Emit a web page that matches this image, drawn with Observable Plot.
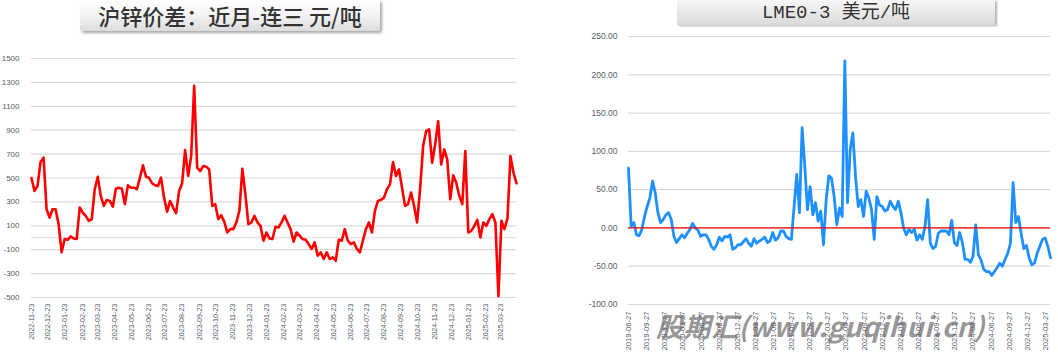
<!DOCTYPE html>
<html><head><meta charset="utf-8">
<script src="https://cdn.jsdelivr.net/npm/d3@7"></script>
<script src="https://cdn.jsdelivr.net/npm/@observablehq/plot@0.6"></script>
<style>
html,body{margin:0;padding:0;background:#fff;}
#wrap{position:relative;width:1058px;height:355px;overflow:hidden;font-family:"Liberation Sans",Arial,sans-serif;}
.panel{position:absolute;top:0;}
.title{position:absolute;top:0;text-align:center;color:#333;white-space:nowrap;}
#t1{left:80px;width:300px;height:31px;line-height:30px;font-size:22px;font-weight:500;font-family:"Noto Sans CJK SC",sans-serif;
 background:linear-gradient(#ffffff,#f3f3f3 50%,#dcdcdc);box-shadow:2px 2px 3px rgba(0,0,0,0.35);border-radius:0 0 3px 3px;}
#t2{left:677px;width:318px;height:25px;line-height:26px;font-size:19px;font-family:"Liberation Mono","Noto Sans CJK SC",monospace;
 background:linear-gradient(#f7f7f7,#e6e6e6 60%,#dadada);box-shadow:2px 1px 2px rgba(0,0,0,0.3);}
#wm{position:absolute;left:656px;top:306px;font-size:27px;font-weight:bold;font-style:italic;color:rgba(105,105,105,0.7);
 font-family:"Noto Sans CJK SC",sans-serif;white-space:nowrap;letter-spacing:0.5px;}
</style></head><body>
<div id="wrap">
 <div id="left" class="panel" style="left:0"></div>
 <div id="right" class="panel" style="left:530px"></div>
 <div id="t1" class="title">沪锌价差：近月-连三 元/吨</div>
 <div id="t2" class="title">LME0-3 美元/吨</div>
 <div id="wm">股期汇(www.guqihui.cn)</div>
</div>
<script>
// ---- Left chart: SHFE zinc spread (near month - 3rd month), yuan/ton ----
const leftTitle = "沪锌价差：近月-连三 元/吨";
const leftStart = "2022-11-23";
const leftEnd = "2025-04-20";
const leftValues = [
 500, 392, 433, 633, 670, 239, 169, 239, 239, 114,
 -122, -11, -17, 11, -6, -11, 253, 211, 183, 142,
 155, 406, 510, 350, 267, 317, 308, 260, 411, 419,
 411, 281, 439, 419, 419, 406, 503, 606, 511, 503,
 456, 439, 433, 503, 336, 217, 308, 253, 206, 392,
 456, 733, 517, 683, 1272, 586, 558, 600, 594, 572,
 267, 281, 156, 189, 133, 44, 72, 72, 128, 225,
 578, 364, 114, 128, 183, 128, 100, -25, 44, -6,
 -11, 92, 86, 128, 183, 128, 72, -33, 44, 17,
 -11, -17, -53, -94, -39, -150, -122, -178, -122, -178,
 -164, -192, -17, -25, 72, -25, -53, -39, -94, -122,
 -25, 72, 128, 44, 225, 308, 317, 336, 406, 447,
 633, 517, 572, 419, 267, 281, 378, 267, 128, 406,
 767, 892, 906, 628, 781, 975, 614, 739, 656, 322,
 522, 461, 350, 281, 725, 44, 58, 100, 150, 3,
 128, 100, 156, 197, 128, -489, 142, 72, 161, 683,
 544, 456
];
const leftYTicks = [-500, -300, -100, 100, 300, 500, 700, 900, 1100, 1300, 1500];
const leftXTickLabels = ["2022-11-23","2022-12-23","2023-01-23","2023-02-23","2023-03-23","2023-04-23","2023-05-23","2023-06-23","2023-07-23","2023-08-23","2023-09-23","2023-10-23","2023-11-23","2023-12-23","2024-01-23","2024-02-23","2024-03-23","2024-04-23","2024-05-23","2024-06-23","2024-07-23","2024-08-23","2024-09-23","2024-10-23","2024-11-23","2024-12-23","2025-01-23","2025-02-23","2025-03-23"];

// ---- Right chart: LME 0-3 spread, USD/ton ----
const rightTitle = "LME0-3 美元/吨";
const rightStart = "2019-06-27";
const rightEnd = "2025-04-22";
const rightValues = [
 78, 2, 7, -9, -10, -2, 15, 28, 39, 61,
 46, 20, 7, 11, 17, 20, 11, -11, -19, -14,
 -9, -13, -7, -2, 6, 0, -3, -11, -9, -9,
 -15, -24, -28, -22, -12, -17, -11, -12, -9, -28,
 -26, -22, -22, -18, -14, -20, -24, -14, -20, -17,
 -15, -12, -19, -17, -6, -16, -13, -4, -4, -11,
 -14, -15, 28, 70, 20, 131, 81, 24, 54, 17,
 33, 9, 22, -22, 37, 68, 65, 41, 4, 26,
 15, 218, 33, 102, 124, 67, 28, 37, 15, 48,
 39, 24, -15, 41, 30, 28, 22, 24, 35, 28,
 24, 35, 20, 0, -9, -2, -6, -2, -16, -9,
 -15, 2, 37, -20, -27, -24, -7, -4, -4, -4,
 -9, 10, -19, -23, -6, -19, -41, -41, -45, -37,
 4, -35, -42, -54, -57, -57, -62, -57, -52, -46,
 -50, -41, -33, -20, 59, 7, 15, -7, -27, -23,
 -39, -48, -46, -33, -24, -15, -13, -24, -39
];
const rightYTicks = [-100, -50, 0, 50, 100, 150, 200, 250];
const rightXTickLabels = ["2019-06-27","2019-09-27","2019-12-27","2020-03-27","2020-06-27","2020-09-27","2020-12-27","2021-03-27","2021-06-27","2021-09-27","2021-12-27","2022-03-27","2022-06-27","2022-09-27","2022-12-27","2023-03-27","2023-06-27","2023-09-27","2023-12-27","2024-03-27","2024-06-27","2024-09-27","2024-12-27","2025-03-27"];

const parse = d3.utcParse("%Y-%m-%d");
const fmt = d3.utcFormat("%Y-%m-%d");
function series(values, start, end) {
  const s = +parse(start), e = +parse(end);
  return values.map((v, i) => ({date: new Date(s + (e - s) * i / (values.length - 1)), value: v}));
}
const tickColor = "#555c66";
const fontFam = "'Liberation Sans', Arial, sans-serif";

const leftPlot = Plot.plot({
  width: 530, height: 355,
  marginLeft: 31, marginRight: 14, marginTop: 58, marginBottom: 58,
  style: {background: "transparent", fontFamily: fontFam, color: tickColor},
  x: {type: "utc", domain: [parse(leftStart), parse(leftEnd)]},
  y: {domain: [-500, 1500]},
  marks: [
    Plot.ruleY(leftYTicks.concat([0]), {stroke: "#d9d9d9", strokeWidth: 1.2}),
    Plot.axisY(leftYTicks, {tickSize: 0, tickPadding: 12, fontSize: 8, label: null, tickFormat: d => String(d)}),
    Plot.axisX(leftXTickLabels.map(parse), {tickSize: 0, tickPadding: 6, tickRotate: -90, fontSize: 7.2, label: null, tickFormat: fmt}),
    Plot.lineY(series(leftValues, leftStart, leftEnd), {x: "date", y: "value", stroke: "#ff0000", strokeWidth: 2.6, strokeLinejoin: "round"})
  ]
});
document.getElementById("left").appendChild(leftPlot);

const rightPlot = Plot.plot({
  width: 528, height: 355,
  marginLeft: 98, marginRight: 8, marginTop: 36, marginBottom: 51,
  style: {background: "transparent", fontFamily: fontFam, color: tickColor},
  x: {type: "utc", domain: [parse(rightStart), parse(rightEnd)]},
  y: {domain: [-100, 250]},
  marks: [
    Plot.ruleY(rightYTicks, {stroke: "#d9d9d9", strokeWidth: 1.2}),
    Plot.axisY(rightYTicks, {tickSize: 0, tickPadding: 11, fontSize: 8.5, label: null, tickFormat: d => d.toFixed(2)}),
    Plot.axisX(rightXTickLabels.map(parse), {tickSize: 0, tickPadding: 7, tickRotate: -90, fontSize: 7.6, label: null, tickFormat: fmt}),
    Plot.lineY(series(rightValues, rightStart, rightEnd), {x: "date", y: "value", stroke: "#1e90ff", strokeWidth: 2.8, strokeLinejoin: "round"}),
    Plot.ruleY([0], {stroke: "#ff0000", strokeWidth: 1.2})
  ]
});
document.getElementById("right").appendChild(rightPlot);
</script>
</body></html>
